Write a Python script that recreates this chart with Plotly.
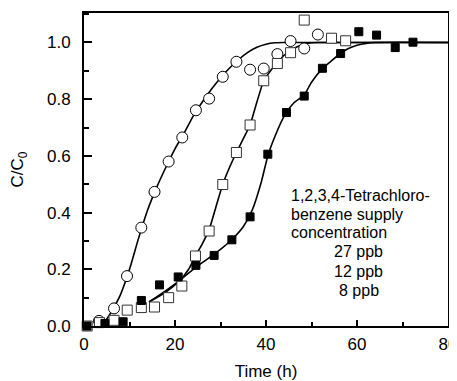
import plotly.graph_objects as go

# ---- measured data ----
x_27 = [3.3, 6.6, 9.45, 12.6, 15.5, 18.6, 21.6, 24.6, 27.5, 30.5, 33.5, 36.5, 39.5, 42.5, 45.4, 48.4, 51.4]
y_27 = [0.018, 0.062, 0.176, 0.347, 0.473, 0.58, 0.665, 0.761, 0.802, 0.879, 0.932, 0.904, 0.908, 0.959, 1.005, 0.979, 1.028]

x_12 = [0.7, 3.4, 6.6, 9.5, 12.6, 15.5, 18.6, 21.5, 24.5, 27.5, 30.5, 33.5, 36.5, 39.5, 42.5, 45.4, 48.4, 54.4, 57.5]
y_12 = [0.0, 0.012, 0.02, 0.056, 0.065, 0.067, 0.1, 0.141, 0.247, 0.335, 0.499, 0.612, 0.709, 0.865, 0.926, 0.964, 1.079, 1.015, 1.006]

x_8 = [0.66, 4.6, 8.6, 12.6, 16.6, 20.7, 24.6, 28.6, 32.5, 36.5, 40.4, 44.5, 48.4, 52.4, 56.4, 60.4, 64.3, 68.4, 72.3]
y_8 = [0.0, 0.009, 0.015, 0.09, 0.145, 0.173, 0.214, 0.249, 0.304, 0.385, 0.606, 0.753, 0.811, 0.909, 0.961, 1.038, 1.026, 0.982, 1.001]

# fitted curves
fx_27 = [4.0, 6, 8, 10, 12, 14, 16, 18, 20, 22, 24, 26, 28, 30, 32, 34, 36, 38, 40, 42, 44, 80]
fy_27 = [0.0, 0.05, 0.11, 0.2, 0.31, 0.41, 0.49, 0.56, 0.625, 0.68, 0.74, 0.79, 0.835, 0.875, 0.91, 0.94, 0.965, 0.983, 0.994, 0.999, 1.0, 1.0]

fx_12 = [14.3, 18, 21, 23, 24.5, 26, 27.5, 29, 30.5, 32, 33.5, 35, 36.5, 38, 39.5, 41, 42.5, 44, 46, 48, 50, 52, 80]
fy_12 = [0.085, 0.12, 0.16, 0.2, 0.247, 0.29, 0.34, 0.42, 0.5, 0.56, 0.612, 0.66, 0.71, 0.79, 0.865, 0.9, 0.93, 0.955, 0.978, 0.992, 0.999, 1.0, 1.0]

fx_8 = [14.3, 18, 21, 24, 27, 30, 32.5, 35, 37, 39, 40.4, 42, 44, 46, 48.4, 50, 52.4, 54, 56.4, 58, 60, 62, 64, 80]
fy_8 = [0.085, 0.125, 0.16, 0.2, 0.235, 0.27, 0.305, 0.35, 0.41, 0.51, 0.6, 0.67, 0.74, 0.785, 0.815, 0.86, 0.908, 0.93, 0.962, 0.978, 0.99, 0.997, 1.0, 1.0]

legend_head = ["1,2,3,4-Tetrachloro-", "benzene supply", "concentration"]
legend_items = ["27 ppb", "12 ppb", "8 ppb"]

x_ticks = [0, 20, 40, 60, 80]
y_ticks = [0.0, 0.2, 0.4, 0.6, 0.8, 1.0]

FONT = "Liberation Sans, Arial, sans-serif"

fig = go.Figure()
line_style = dict(color="black", width=1.6, shape="spline", smoothing=0.6)
for fx, fy in [(fx_27, fy_27), (fx_12, fy_12), (fx_8, fy_8)]:
    fig.add_trace(go.Scatter(x=fx, y=fy, mode="lines", line=line_style,
                             showlegend=False, hoverinfo="skip", cliponaxis=False))

fig.add_trace(go.Scatter(x=x_27, y=y_27, mode="markers", showlegend=False, cliponaxis=False,
                         marker=dict(symbol="circle", size=11, color="white",
                                     line=dict(color="black", width=1))))
fig.add_trace(go.Scatter(x=x_12, y=y_12, mode="markers", showlegend=False, cliponaxis=False,
                         marker=dict(symbol="square", size=10, color="white",
                                     line=dict(color="#333333", width=1))))
fig.add_trace(go.Scatter(x=x_8, y=y_8, mode="markers", showlegend=False, cliponaxis=False,
                         marker=dict(symbol="square", size=8, color="black",
                                     line=dict(color="black", width=1))))

ys_head = [0.462, 0.395, 0.330]
for t, yv in zip(legend_head, ys_head):
    fig.add_annotation(x=45.1, y=yv, text=t, showarrow=False, xanchor="left", yanchor="middle",
                       font=dict(family=FONT, size=16, color="black"))
ys_items = [0.262, 0.191, 0.125]
for t, yv in zip(legend_items, ys_items):
    fig.add_annotation(x=60.4, y=yv, text=t, showarrow=False, xanchor="center", yanchor="middle",
                       font=dict(family=FONT, size=16, color="black"))

# page body has an 8px default margin: compensate so the plot lands where the reference's does
fig.update_layout(
    width=457, height=373,
    margin=dict(l=76, r=17, t=5, b=55),
    paper_bgcolor="white", plot_bgcolor="white",
    font=dict(family=FONT, size=17, color="black"),
    showlegend=False,
)
fig.update_xaxes(
    range=[0, 80], tickvals=x_ticks, ticktext=[str(v) for v in x_ticks],
    showgrid=False, zeroline=False, showline=True, linecolor="black", linewidth=2,
    mirror=True, ticks="inside", ticklen=6, tickwidth=1.5, tickcolor="black",
    minor=dict(ticks="inside", ticklen=4, tickwidth=1.5, tickcolor="black", dtick=10, showgrid=False),
    title=dict(text="Time (h)", font=dict(family=FONT, size=17), standoff=12),
    tickfont=dict(family=FONT, size=17), automargin=False, ticklabelstandoff=2,
    ticklabeloverflow="allow",
)
fig.update_yaxes(
    range=[0, 1.104], tickvals=y_ticks, ticktext=["%.1f" % v for v in y_ticks],
    showgrid=False, zeroline=False, showline=True, linecolor="black", linewidth=2,
    mirror=True, ticks="inside", ticklen=8, tickwidth=1.5, tickcolor="black",
    minor=dict(ticks="inside", ticklen=5, tickwidth=1.5, tickcolor="black", dtick=0.1, showgrid=False),
    title=dict(text="C/C<sub>0</sub>", font=dict(family=FONT, size=17), standoff=20),
    tickfont=dict(family=FONT, size=17), ticklabelstandoff=8, automargin=False,
    ticklabeloverflow="allow",
)

fig.write_html("out.html")
